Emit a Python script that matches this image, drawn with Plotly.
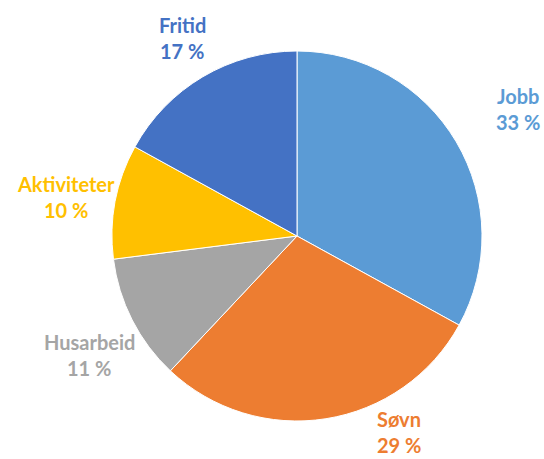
import plotly.graph_objects as go

categories = ["Jobb", "Søvn", "Husarbeid", "Aktiviteter", "Fritid"]
values = [33, 29, 11, 10, 17]
colors = ["#5B9BD5", "#ED7D31", "#A5A5A5", "#FFC000", "#4472C4"]
label_text = ["33 %", "29 %", "11 %", "10 %", "17 %"]

W, H = 544, 459
cx, cy, r = 297, 236, 185

fig = go.Figure(go.Pie(
    labels=categories,
    values=values,
    sort=False,
    direction="clockwise",
    rotation=0,
    marker=dict(colors=colors, line=dict(color="white", width=1)),
    textinfo="none",
    hoverinfo="label+percent",
    showlegend=False,
    domain=dict(x=[(cx - r) / W, (cx + r) / W], y=[(H - cy - r) / H, (H - cy + r) / H]),
))

# label anchor positions (pixel, from top-left) for name / percent lines
label_pos = {
    "Jobb": (518, 96),
    "Søvn": (399, 419),
    "Husarbeid": (89, 342),
    "Aktiviteter": (66, 184),
    "Fritid": (182, 25),
}
for cat, col, pct in zip(categories, colors, label_text):
    x, y = label_pos[cat]
    for i, t in enumerate([cat, pct]):
        fig.add_annotation(
            x=x / W, y=1 - (y + 26 * i) / H, xref="paper", yref="paper",
            text="<b>" + t + "</b>", showarrow=False,
            xanchor="center", yanchor="middle",
            font=dict(family="Lato", size=20, color=col),
        )

fig.update_layout(
    width=W, height=H,
    margin=dict(l=0, r=0, t=0, b=0),
    paper_bgcolor="white", plot_bgcolor="white",
)
fig.write_html("out.html")
